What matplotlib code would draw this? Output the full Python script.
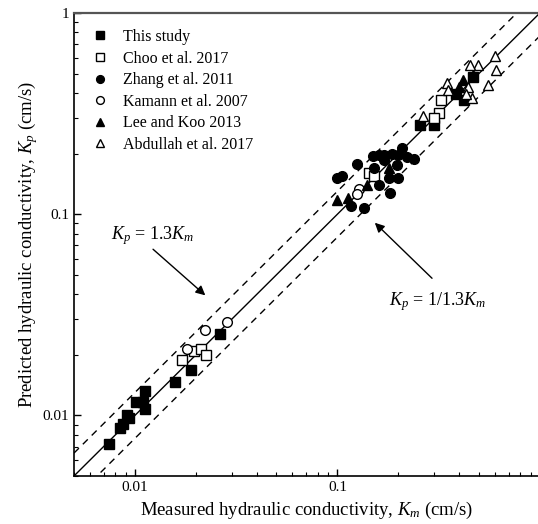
import numpy as np
import matplotlib
matplotlib.use("Agg")
import matplotlib.pyplot as plt
from matplotlib.ticker import FixedLocator, LogLocator, NullFormatter, FixedFormatter

plt.rcParams["font.family"] = "Liberation Serif"
plt.rcParams["mathtext.fontset"] = "custom"
plt.rcParams["mathtext.rm"] = "Liberation Serif"
plt.rcParams["mathtext.it"] = "Liberation Serif:italic"

# measured (x) vs predicted (y) hydraulic conductivity, cm/s
this_x = [0.00743, 0.0084, 0.00873, 0.00917, 0.0094, 0.0101, 0.011, 0.0112, 0.0112,
          0.0157, 0.0189, 0.0264, 0.255, 0.299, 0.386, 0.42, 0.47]
this_y = [0.00718, 0.00863, 0.0091, 0.0100, 0.0097, 0.0116, 0.0116, 0.0132, 0.0108,
          0.0147, 0.0168, 0.0254, 0.279, 0.279, 0.398, 0.371, 0.48]

choo_x = [0.0171, 0.0196, 0.0211, 0.0224, 0.143, 0.152, 0.316, 0.326, 0.30]
choo_y = [0.0188, 0.0208, 0.0215, 0.0199, 0.160, 0.155, 0.318, 0.371, 0.30]

zhang_x = [0.1247, 0.1507, 0.169, 0.186, 0.199, 0.209, 0.221, 0.239, 0.151, 0.196,
           0.100, 0.105, 0.179, 0.199, 0.161, 0.181, 0.136, 0.117, 0.160, 0.170]
zhang_y = [0.178, 0.1945, 0.196, 0.200, 0.196, 0.214, 0.193, 0.189, 0.170, 0.175,
           0.152, 0.154, 0.151, 0.152, 0.139, 0.127, 0.107, 0.110, 0.196, 0.185]

kamann_x = [0.018, 0.0222, 0.0286, 0.128, 0.125]
kamann_y = [0.0215, 0.0267, 0.0291, 0.134, 0.126]

lee_x = [0.0993, 0.113, 0.18, 0.14, 0.417, 0.40, 0.47]
lee_y = [0.117, 0.121, 0.17, 0.139, 0.465, 0.43, 0.493]

abd_x = [0.598, 0.605, 0.555, 0.494, 0.45, 0.347, 0.35, 0.44, 0.46, 0.43, 0.264]
abd_y = [0.608, 0.522, 0.44, 0.553, 0.553, 0.449, 0.416, 0.43, 0.378, 0.398, 0.307]

ratio = 1.3
lim = [0.005, 1.0]

fig = plt.figure(figsize=(5.38, 5.24), dpi=100)
ax = fig.add_axes([0.1375, 0.0916, 0.866, 0.8836])

line = np.array(lim)
ax.plot(line, line, color="black", lw=1.0)
ax.plot(line, line * ratio, color="black", lw=1.0, ls=(0, (5, 4)))
ax.plot(line, line / ratio, color="black", lw=1.0, ls=(0, (5, 4)))

ms = 6.5
ax.plot(this_x, this_y, "s", color="black", ms=ms, ls="none", label="This study")
ax.plot(choo_x, choo_y, "s", mfc="white", mec="black", mew=1.0, ms=ms, ls="none",
        label="Choo et al. 2017")
ax.plot(zhang_x, zhang_y, "o", color="black", ms=ms + 0.5, ls="none", label="Zhang et al. 2011")
ax.plot(kamann_x, kamann_y, "o", mfc="white", mec="black", mew=1.0, ms=ms + 0.5, ls="none",
        label="Kamann et al. 2007")
ax.plot(lee_x, lee_y, "^", color="black", ms=ms + 1, ls="none", label="Lee and Koo 2013")
ax.plot(abd_x, abd_y, "^", mfc="white", mec="black", mew=1.0, ms=ms + 1, ls="none",
        label="Abdullah et al. 2017")

ax.set_xscale("log")
ax.set_yscale("log")
ax.set_xlim(lim)
ax.set_ylim(lim)

ax.xaxis.set_major_locator(FixedLocator([0.01, 0.1]))
ax.xaxis.set_major_formatter(FixedFormatter(["0.01", "0.1"]))
ax.yaxis.set_major_locator(FixedLocator([0.01, 0.1, 1]))
ax.yaxis.set_major_formatter(FixedFormatter(["0.01", "0.1", "1"]))
for a in (ax.xaxis, ax.yaxis):
    a.set_minor_locator(LogLocator(base=10, subs=np.arange(2, 10)))
    a.set_minor_formatter(NullFormatter())
ax.tick_params(which="both", direction="in", labelsize=11, top=False, right=False)
ax.tick_params(which="major", length=5, width=1.0)
ax.tick_params(which="minor", length=3, width=0.8)
for s in ax.spines.values():
    s.set_linewidth(1.2)
ax.spines["top"].set_color("#555555")
ax.spines["top"].set_linewidth(1.6)
ax.spines["right"].set_color("#bbbbbb")

ax.set_xlabel("Measured hydraulic conductivity, $K_m$ (cm/s)", fontsize=13.5, labelpad=4)
ax.set_ylabel("Predicted hydraulic conductivity, $K_p$ (cm/s)", fontsize=13.5, labelpad=2)

ax.legend(loc="upper left", frameon=False, fontsize=11.5, handletextpad=0.9,
          labelspacing=0.35, borderaxespad=0.6, handlelength=1.2, markerscale=0.8)

# annotation for the upper 1.3 line
ax.annotate("", xy=(0.0228, 0.0387), xytext=(0.012, 0.0684),
            arrowprops=dict(arrowstyle="-|>", color="black", lw=1.0, mutation_scale=14))
ax.text(0.0076, 0.078, "$K_p$ = 1.3$K_m$", fontsize=13, ha="left", va="center")

# annotation for the lower 1/1.3 line
ax.annotate("", xy=(0.1496, 0.0927), xytext=(0.30, 0.047),
            arrowprops=dict(arrowstyle="-|>", color="black", lw=1.0, mutation_scale=14))
ax.text(0.18, 0.037, "$K_p$ = 1/1.3$K_m$", fontsize=13, ha="left", va="center")

fig.savefig("out.png", dpi=100)
